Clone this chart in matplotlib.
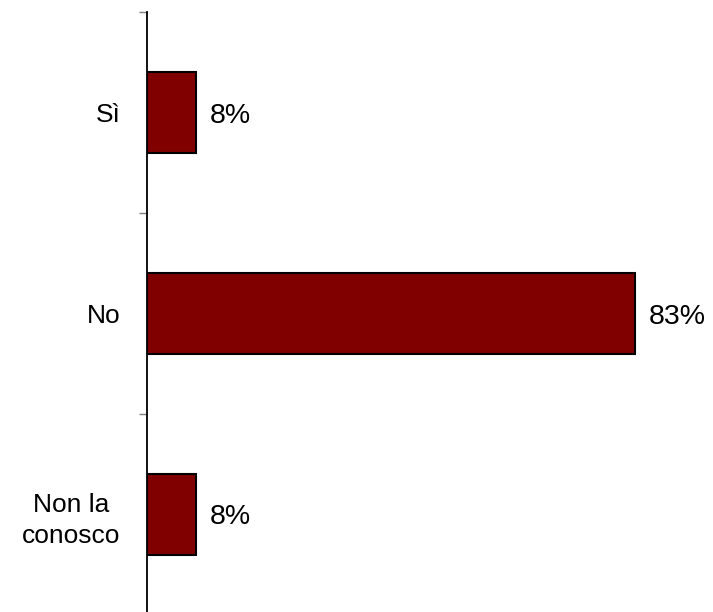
import numpy as np
import matplotlib
matplotlib.use("Agg")
import matplotlib.pyplot as plt

categories = ["Sì", "No", "Non la\nconosco"]
values = [8.3, 83.3, 8.3]
labels = ["8%", "83%", "8%"]

plt.rcParams['font.family'] = ['Liberation Sans', 'DejaVu Sans']

fig = plt.figure(figsize=(7.13, 6.12), dpi=100)
ax = fig.add_axes([147/713, -3/612, 1 - 147/713, 603/612])

y = np.arange(len(categories))
ax.barh(y, values, height=0.40, color="#800000", edgecolor="black", linewidth=1.5)

for yi, v, lab in zip(y, values, labels):
    ax.text(v + 2.4, yi, lab, va="center_baseline", ha="left", fontsize=20.5)

ax.set_xlim(0, 96.6)
ax.set_ylim(len(categories) - 0.5, -0.5)

for s in ["top", "right", "bottom"]:
    ax.spines[s].set_visible(False)
ax.spines["left"].set_linewidth(1.3)
ax.set_xticks([])

# tick marks between categories, labels centred on bars
ax.set_yticks(np.arange(-0.5, len(categories)))
ax.set_yticklabels([])
ax.tick_params(axis="y", which="major", length=5.8, color="#808080", width=1)
ax.set_yticks(y, minor=True)
ax.set_yticklabels(categories, minor=True, fontsize=19, multialignment="center",
                   linespacing=1.35)
ax.tick_params(axis="y", which="minor", length=0, pad=19)
for t in ax.get_yticklabels(minor=True):
    t.set_va("center_baseline")

fig.savefig("out.png", dpi=100)
